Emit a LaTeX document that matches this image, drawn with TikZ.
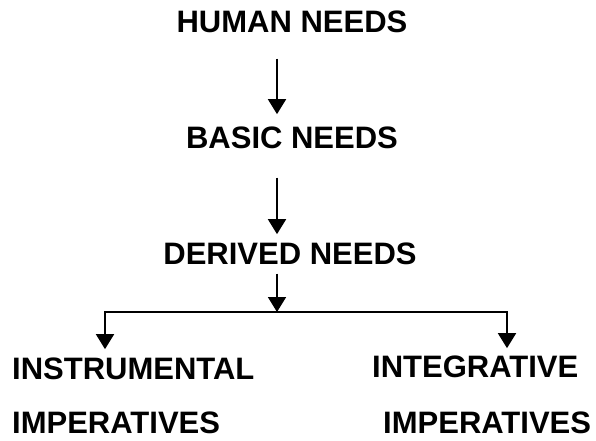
\documentclass[tikz,border=0pt]{standalone}
\usepackage{fontspec}
\setmainfont{Liberation Sans}
\usetikzlibrary{arrows.meta}

\begin{document}
\begin{tikzpicture}[x=1pt,y=-1pt,
    need/.style={inner sep=0pt,font=\fontsize{31}{37}\selectfont\bfseries},
    flow/.style={line width=1.8pt,-{Triangle[width=18pt,length=15pt]}}]
  \useasboundingbox (0,0) rectangle (596,440);
  \node[need,anchor=base] (human) at (292,32) {HUMAN NEEDS};
  \node[need,anchor=base] (basic) at (292,148) {BASIC NEEDS};
  \node[need,anchor=base] (derived) at (290,264) {DERIVED NEEDS};
  \node[need,anchor=base west] (instr) at (12,379) {INSTRUMENTAL};
  \node[need,anchor=base west] (instrimp) at (12,433) {IMPERATIVES};
  \node[need,anchor=base west] (integ) at (372,377) {INTEGRATIVE};
  \node[need,anchor=base west] (integimp) at (383,433) {IMPERATIVES};
  \coordinate (split) at (277,312);
  \draw[flow,shorten <=26pt,shorten >=12pt] (human.south -| split) -- (basic.north -| split);
  \draw[flow,shorten <=29pt,shorten >=8pt] (basic.south -| split) -- (derived.north -| split);
  \draw[flow,shorten <=9pt] (derived.south -| split) -- (split);
  \draw[flow,shorten >=8pt] (split) -| (instr.north -| 105,0);
  \draw[flow,shorten >=7pt] (split) -| (integ.north -| 507,0);
\end{tikzpicture}
\end{document}
